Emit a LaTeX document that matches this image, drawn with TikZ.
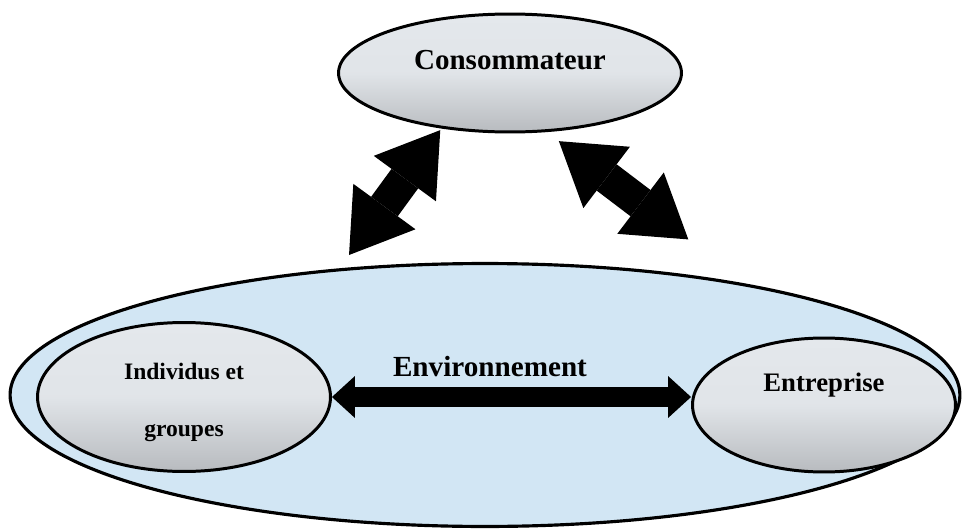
\documentclass[tikz,border=0pt]{standalone}
\usepackage{fontspec}
\setmainfont{Liberation Serif}
\usepackage{tikz}
\usetikzlibrary{shapes.geometric,arrows.meta}

\definecolor{bulletop}{RGB}{228,232,236}
\definecolor{bullebot}{RGB}{184,187,191}
\definecolor{envfill}{RGB}{210,230,244}

\tikzset{
  bulle/.style={ellipse, draw, line width=1.7pt, inner sep=0pt,
                top color=bulletop, bottom color=bullebot, middle color=bulletop!92!bullebot},
  milieu/.style={ellipse, draw, line width=1.8pt, fill=envfill, inner sep=0pt},
  txt/.style={font=\bfseries},
  flechehz/.style={line width=0.4cm,
     {Triangle[width=0.84cm,length=0.46cm,line width=0pt]}-{Triangle[width=0.84cm,length=0.46cm,line width=0pt]}},
  flechedg/.style={line width=0.66cm,
     {Triangle[width=1.54cm,length=1.2cm,line width=0pt]}-{Triangle[width=1.54cm,length=1.2cm,line width=0pt]}}
}

\begin{document}
\begin{tikzpicture}[x=0.02cm,y=-0.02cm]
        \useasboundingbox (0,0) rectangle (965,531);                  %
        \node [milieu, minimum width=19.0cm, minimum height=5.26cm,
               label={[txt,font=\fontsize{16.6}{18}\bfseries\selectfont,xshift=0.1cm,yshift=0.56cm]center:Environnement}]
               (env) at (485,395) {};                                  %environnement
        \node [bulle, minimum width=6.86cm, minimum height=2.36cm,
               label={[txt,font=\fontsize{16.5}{18}\bfseries\selectfont,yshift=0.26cm]center:Consommateur}]
               (cons) at (510,73) {};                                  %consommateur
        \node [bulle, minimum width=5.86cm, minimum height=2.98cm,
               label={[txt,font=\fontsize{13.4}{16}\bfseries\selectfont,align=center,yshift=-0.1cm]center:{Individus et\\[0.58cm]groupes}}]
               (ind) at (184,397) {};                                  %individus
        \node [bulle, minimum width=5.26cm, minimum height=2.68cm,
               label={[txt,font=\fontsize{15.2}{18}\bfseries\selectfont,yshift=0.4cm]center:Entreprise}]
               (ent) at (824,405) {};                                  %entreprise
        \draw [flechehz] (ind.east) -- (ind.east -| ent.west);         %
        \draw [flechedg, shorten <=0.04cm, shorten >=0.33cm] (cons.219) -- (env.139.7);
        \draw [flechedg, shorten <=0.3cm, shorten >=1.47cm]  (cons.302) -- (env.23);
\end{tikzpicture}
\end{document}
